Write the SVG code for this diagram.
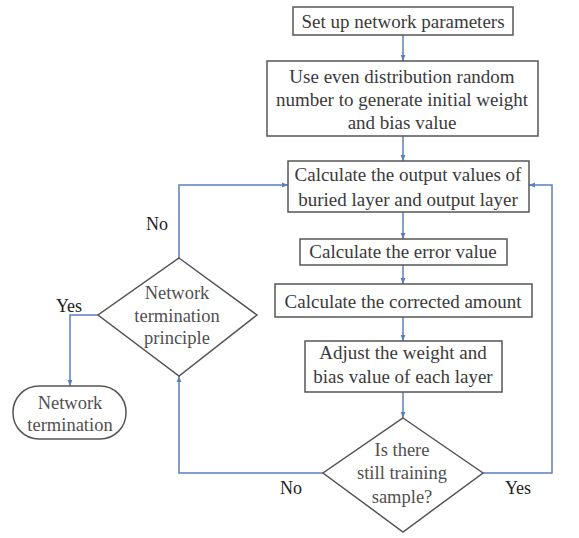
<svg xmlns="http://www.w3.org/2000/svg" width="579" height="538" viewBox="0 0 579 538">
<style>
.box{fill:#fff;stroke:#555;stroke-width:1.5}
.t{font-family:'Liberation Serif','Times New Roman','DejaVu Serif',serif;font-size:19px;fill:#3a3a3a;text-anchor:middle}
.d{font-size:18.5px;fill:#505050}
.lb{font-family:'Liberation Serif','Times New Roman','DejaVu Serif',serif;font-size:18px;fill:#222;text-anchor:middle}
.c{fill:none;stroke:#5b80bd;stroke-width:1.5}
</style>
<defs>
<marker id="ah" viewBox="0 0 10 10" refX="10" refY="5" markerWidth="6" markerHeight="6" orient="auto" markerUnits="userSpaceOnUse">
<path d="M0,1 L10,5 L0,9 Z" fill="#5b80bd"/>
</marker>
</defs>
<rect width="579" height="538" fill="#fff"/>
<g id="connectors">
<path class="c" d="M403,35 V61" marker-end="url(#ah)"/>
<path class="c" d="M403,136 V161" marker-end="url(#ah)"/>
<path class="c" d="M403,212 V239" marker-end="url(#ah)"/>
<path class="c" d="M403,265 V284" marker-end="url(#ah)"/>
<path class="c" d="M403,317 V341" marker-end="url(#ah)"/>
<path class="c" d="M403,392 V418" marker-end="url(#ah)"/>
<path class="c" d="M483,473 H552 V185 H529" marker-end="url(#ah)"/>
<path class="c" d="M323,473 H179 V376" marker-end="url(#ah)"/>
<path class="c" d="M179,258 V185 H288" marker-end="url(#ah)"/>
<path class="c" d="M98,315 H70 V386" marker-end="url(#ah)"/>
<text class="lb" x="157" y="230">No</text>
<text class="lb" x="69" y="312">Yes</text>
<text class="lb" x="291" y="494">No</text>
<text class="lb" x="518" y="494">Yes</text>
</g>
<g id="n1">
<rect class="box" x="293" y="7" width="220" height="28"/>
<text class="t" x="403" y="28">Set up network parameters</text>
</g>
<g id="n2">
<rect class="box" x="267" y="61" width="271" height="75"/>
<text class="t" x="402" y="83">Use even distribution random</text>
<text class="t" x="402" y="106">number to generate initial weight</text>
<text class="t" x="402" y="129">and bias value</text>
</g>
<g id="n3">
<rect class="box" x="288" y="161" width="241" height="51"/>
<text class="t" x="408" y="181">Calculate the output values of</text>
<text class="t" x="408" y="206">buried layer and output layer</text>
</g>
<g id="n4">
<rect class="box" x="300" y="239" width="207" height="26"/>
<text class="t" x="403" y="258">Calculate the error value</text>
</g>
<g id="n5">
<rect class="box" x="275" y="284" width="257" height="33"/>
<text class="t" x="403" y="308">Calculate the corrected amount</text>
</g>
<g id="n6">
<rect class="box" x="305" y="341" width="197" height="51"/>
<text class="t" x="403" y="359">Adjust the weight and</text>
<text class="t" x="403" y="383">bias value of each layer</text>
</g>
<g id="n7">
<polygon class="box" points="403,418 483,473 403,532 323,473"/>
<text class="t d" x="402" y="456">Is there</text>
<text class="t d" x="402" y="479">still training</text>
<text class="t d" x="402" y="503">sample?</text>
</g>
<g id="n8">
<polygon class="box" points="179,258 257,315 179,376 98,315"/>
<text class="t d" x="177" y="299">Network</text>
<text class="t d" x="177" y="322">termination</text>
<text class="t d" x="177" y="344">principle</text>
</g>
<g id="n9">
<rect class="box" x="13" y="386" width="113" height="53" rx="26" ry="26"/>
<text class="t d" x="70" y="409">Network</text>
<text class="t d" x="70" y="431">termination</text>
</g>
</svg>
